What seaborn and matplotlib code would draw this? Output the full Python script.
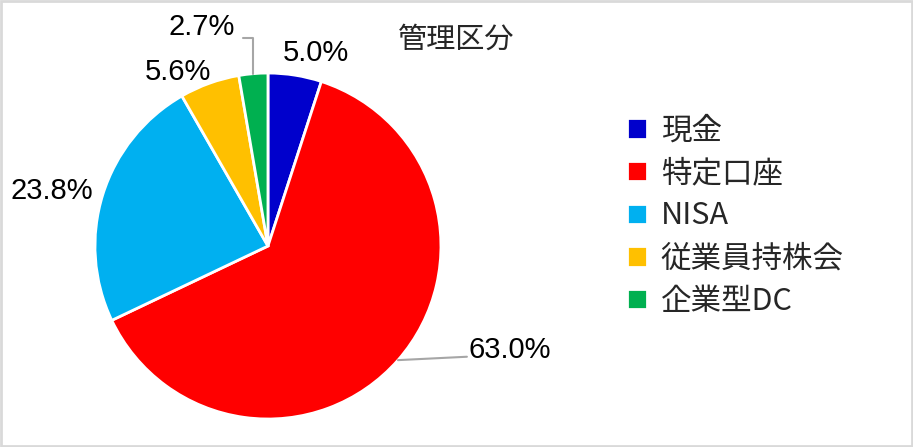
import numpy as np
import matplotlib
matplotlib.use('Agg')
import matplotlib.pyplot as plt
import seaborn as sns
from matplotlib.patches import Rectangle

# data
categories = ['現金', '特定口座', 'NISA', '従業員持株会', '企業型DC']
shares = [5.0, 63.0, 23.8, 5.6, 2.7]
pct_labels = ['5.0%', '63.0%', '23.8%', '5.6%', '2.7%']
colors = ['#0000CC', '#FF0000', '#00B0F0', '#FFC000', '#00B050']
title = '管理区分'

sns.set_theme(style='white')
plt.rcParams['font.family'] = ['Noto Sans CJK JP', 'DejaVu Sans']
palette = sns.color_palette(colors)

fig = plt.figure(figsize=(9.13, 4.47), dpi=100)
ax = fig.add_axes([0.104, 0.0626, 0.379, 0.774])

wedges, _ = ax.pie(shares, colors=palette, startangle=90, counterclock=False,
                   wedgeprops=dict(edgecolor='white', linewidth=2))
ax.set_xlim(-1, 1)
ax.set_ylim(-1, 1)
ax.set_aspect('equal')
ax.axis('off')

# label placement: radius factor, angle nudge (deg)
placement = [(1.15, -5), (1.52, 18), (1.29, 3), (1.13, 7.6), (1.32, 12)]
for i, (w, lab) in enumerate(zip(wedges, pct_labels)):
    mid = np.deg2rad((w.theta1 + w.theta2) / 2)
    rf, nudge = placement[i]
    ang = mid + np.deg2rad(nudge)
    tx, ty = rf * np.cos(ang), rf * np.sin(ang)
    ax.text(tx, ty, lab, ha='center', va='center', fontsize=21,
            family=['Liberation Sans', 'DejaVu Sans'], color='black', clip_on=False)
    if lab == '63.0%':
        ex, ey = np.cos(mid), np.sin(mid)
        ax.plot([ex, 1.15], [ey, -0.64], color='#A6A6A6', lw=1.5, clip_on=False)
    if lab == '2.7%':
        ex, ey = np.cos(mid), np.sin(mid)
        ax.plot([ex, ex, -0.145], [ey, 1.20, 1.20], color='#A6A6A6', lw=1.5, clip_on=False)

fig.text(456 / 913, 1 - 40 / 447, title, ha='center', va='center', fontsize=21)

fig.legend(wedges, categories, loc='center left', bbox_to_anchor=(612 / 913, 1 - 216 / 447),
           frameon=False, fontsize=22, handlelength=0.65, handleheight=0.65,
           handletextpad=0.45, labelspacing=0.38, borderpad=0)

fig.patches.append(Rectangle((0.001, 0.002), 0.998, 0.996, transform=fig.transFigure,
                             fill=False, edgecolor='#D9D9D9', linewidth=2))

fig.savefig('out.png', dpi=100)
